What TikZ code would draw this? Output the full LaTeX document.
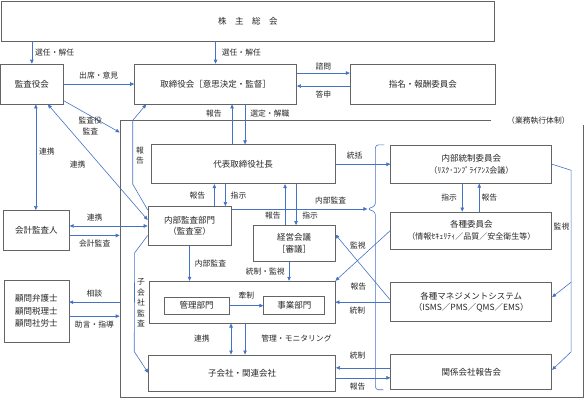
\documentclass[tikz,border=0pt]{standalone}
\usepackage{fontspec}
\newfontfamily\jpfont{Noto Sans CJK JP}
\usepackage{tikz}
\usetikzlibrary{positioning, arrows.meta}
\definecolor{flow}{RGB}{68,114,196}
\definecolor{edge}{RGB}{100,100,100}
\definecolor{ink}{RGB}{38,38,38}

\begin{document}
\begin{tikzpicture}[
  box/.style={draw=edge, fill=white, line width=0.7pt, inner sep=1pt,
              font=\jpfont\fontsize{8.5}{11.5}\selectfont, text=ink, align=center},
  frame/.style={draw=edge, line width=0.7pt, inner sep=0pt},
  lbl/.style={font=\jpfont\fontsize{7.8}{10}\selectfont, text=ink,
              inner xsep=1pt, inner ysep=4.5pt, align=center},
  arr/.style={-{Triangle[length=4pt, width=3.5pt]}, line width=0.6pt, color=flow},
  biarr/.style={{Triangle[length=4pt, width=3.5pt]}-{Triangle[length=4pt, width=3.5pt]},
                line width=0.6pt, color=flow},
  link/.style={line width=0.6pt, color=flow},
]
  \useasboundingbox (0,0) rectangle (584pt,-397pt);

  % Governance row
  \node[box, minimum width=493pt, minimum height=40pt, anchor=north west] (soukai) at (1pt,-0.5pt)
    {株\hspace{1em}主\hspace{1em}総\hspace{1em}会};
  \node[box, minimum width=62pt, minimum height=40pt, below right=22.5pt and -0.5pt of soukai.south west] (kansayaku) {監査役会};
  \node[box, minimum width=162pt, minimum height=40pt, right=71pt of kansayaku] (torishimari) {取締役会［意思決定・監督］};
  \node[box, minimum width=145pt, minimum height=40pt, right=53pt of torishimari] (shimei) {指名・報酬委員会};

  % Execution frame
  \node[frame, minimum width=463pt, minimum height=277pt, below right=16pt and -14.5pt of torishimari.south west] (exec) {};
  \node[lbl, fill=white, inner xsep=16pt, inner ysep=1pt] (exectitle) at ([xshift=-45pt]exec.north east) {（業務執行体制）};

  \node[box, minimum width=184pt, minimum height=39pt, below right=40pt and 16.5pt of torishimari.south west] (shacho) {代表取締役社長};
  \node[box, minimum width=83pt, minimum height=39pt, below right=22pt and -3pt of shacho.south west] (naibu) {内部監査部門\\（監査室）};
  \node[box, minimum width=82pt, minimum height=36pt, below left=41pt and 0pt of shacho.south east] (keiei) {経営会議\\［審議］};
  \node[box, minimum width=186pt, minimum height=42pt, below right=35pt and 1pt of naibu.south west] (jigyo) {};
  \node[box, minimum width=65pt, minimum height=17pt, below right=16pt and 15pt of jigyo.north west] (kanri) {管理部門};
  \node[box, minimum width=61pt, minimum height=18pt, right=34pt of kanri] (jigyobu) {事業部門};
  \node[box, minimum width=187pt, minimum height=36pt, below=31pt of jigyo] (kogaisha) {子会社・関連会社};

  \node[box, minimum width=161pt, minimum height=38pt, right=55pt of shacho] (tousei)
    {内部統制委員会\\{\fontsize{8}{10}\selectfont（ﾘｽｸ･ｺﾝﾌﾟﾗｲｱﾝｽ会議）}};
  \node[box, minimum width=161pt, minimum height=37pt, below=28pt of tousei] (kakushu)
    {各種委員会\\{\fontsize{8}{10}\selectfont（情報ｾｷｭﾘﾃｨ／品質／安全衛生等）}};
  \node[box, minimum width=161pt, minimum height=39pt, below=33pt of kakushu] (mgmt)
    {各種マネジメントシステム\\（ISMS／PMS／QMS／EMS）};
  \node[box, minimum width=161pt, minimum height=35pt, below=32pt of mgmt] (kankei) {関係会社報告会};

  % Outside parties
  \node[box, minimum width=66pt, minimum height=40pt, below left=4pt and 78pt of naibu.north west] (kaikei) {会計監査人};
  \node[box, minimum width=65pt, minimum height=62pt, below=29pt of kaikei, font=\jpfont\fontsize{8.5}{12.5}\selectfont] (komon)
    {顧問弁護士\\顧問税理士\\顧問社労士};

  % Shareholders
  \draw[arr] (kansayaku.north |- soukai.south) -- node[lbl, right=2pt]{選任・解任} (kansayaku);
  \draw[arr] (torishimari.north |- soukai.south) -- node[lbl, right=5pt]{選任・解任} (torishimari);

  % Board and auditors
  \draw[arr] (kansayaku) -- node[lbl, above]{出席・意見} (torishimari);
  \draw[arr] ([yshift=11pt]torishimari.east) -- node[lbl, above=-2pt]{諮問} ([yshift=11pt]torishimari.east -| shimei.west);
  \draw[arr] ([yshift=-2pt]torishimari.east -| shimei.west) -- node[lbl, below]{答申} ([yshift=-2pt]torishimari.east);
  \draw[biarr] ([xshift=4pt]kansayaku.south) -- node[lbl, pos=0.45, right=2pt]{連携} ([xshift=4pt]kansayaku.south |- kaikei.north);
  \draw[biarr] ([xshift=16pt]kansayaku.south) -- node[lbl, pos=0.52, left=13pt]{連携} ([yshift=6pt]naibu.west);
  \draw[arr] ([yshift=4pt]kansayaku.south east) -- node[lbl, pos=0.48, below, inner ysep=1pt, font=\jpfont\fontsize{7.8}{11}\selectfont]{監査役\\監査} ([yshift=-12pt]exec.north west);

  % Accounting auditor and advisers
  \draw[biarr] (kaikei.east |- naibu.west) -- node[lbl, pos=0.32, above]{連携} (naibu.west);
  \draw[arr] ([yshift=-5pt]kaikei.east) -- node[lbl, below]{会計監査} ([yshift=-5pt]kaikei.east -| exec.west);
  \draw[arr] ([yshift=9pt]komon.east -| exec.west) -- node[lbl, above]{相談} ([yshift=9pt]komon.east);
  \draw[arr] ([yshift=-5pt]komon.east) -- node[lbl, below]{助言・指導} ([yshift=-5pt]komon.east -| exec.west);

  % President
  \draw[arr] ([xshift=-11pt]shacho.north) -- node[lbl, pos=0.78, left=9pt]{報告} ([xshift=-11pt]shacho.north |- torishimari.south);
  \draw[arr] ([xshift=2pt]shacho.north |- torishimari.south) -- node[lbl, pos=0.22, right=4pt]{選定・解職} ([xshift=2pt]shacho.north);
  \draw[arr] ([xshift=-17pt]naibu.north east) -- node[lbl, left=8pt]{報告} ([xshift=-17pt]naibu.north east |- shacho.south);
  \draw[arr] ([xshift=-6pt]naibu.north east |- shacho.south) -- node[lbl, right=4pt]{指示} ([xshift=-6pt]naibu.north east);
  \draw[arr] ([xshift=-9pt]keiei.north) -- node[lbl, pos=0.24, left=3pt]{報告} ([xshift=-9pt]keiei.north |- shacho.south);
  \draw[arr] ([xshift=2pt]keiei.north |- shacho.south) -- node[lbl, pos=0.76, right=5pt]{指示} ([xshift=2pt]keiei.north);
  \draw[arr] (shacho.east) -- node[lbl, pos=0.35, above]{統括} (shacho.east -| tousei.west);

  % Internal audit
  \coordinate (leftx) at ([xshift=-15pt]naibu.west);
  \draw[arr] ([yshift=16pt]naibu.west) -- (leftx |- shacho.south)
    -- node[lbl, pos=0.45, right=2pt, font=\jpfont\fontsize{7.8}{10}\selectfont]{報\\告} (leftx |- exec.north)
    -- ([xshift=12pt]torishimari.south west);
  \coordinate (sub1) at ([xshift=-13pt,yshift=-7pt]naibu.south west);
  \coordinate (sub2) at ([xshift=-14pt,yshift=3pt]kogaisha.north west);
  \draw[arr] ([yshift=-9.5pt]naibu.west) -- (sub1)
    -- node[lbl, pos=0.51, right=1.5pt, font=\jpfont\fontsize{7.8}{10.5}\selectfont]{子\\会\\社\\監\\査} (sub2)
    -- (kogaisha.west);

  \coordinate (audity) at ([yshift=17pt]naibu.east);
  \coordinate (bracex) at ([xshift=-15pt]tousei.west);
  \coordinate (bracemid) at (bracex |- audity);
  \coordinate (bracetip) at ([xshift=-8pt]bracemid);
  \draw[link, rounded corners=3pt] ([xshift=-6pt]tousei.north west) -- (bracex |- tousei.north)
    -- ([yshift=3pt]bracemid) -- (bracetip) -- ([yshift=-3pt]bracemid)
    -- (bracex |- kankei.south) -- ([xshift=-7pt]kankei.south west);
  \draw[arr] (audity) -- node[lbl, pos=0.73, above]{内部監査} (bracetip);

  \draw[arr] (naibu.south) -- node[lbl, right=4pt]{内部監査} (naibu.south |- jigyo.north);
  \draw[arr] ([xshift=-5pt]keiei.south) -- node[lbl, left=3pt]{統制・監視} ([xshift=-5pt]keiei.south |- jigyo.north);
  \draw[arr] (kanri) -- node[lbl, above=2pt]{牽制} (jigyobu);
  \draw[biarr] ([xshift=-11pt]jigyo.south) -- node[lbl, left=20pt]{連携} ([xshift=-11pt]jigyo.south |- kogaisha.north);
  \draw[arr] ([xshift=3pt]jigyo.south) -- node[lbl, right=15pt]{管理・モニタリング} ([xshift=3pt]jigyo.south |- kogaisha.north);

  % Committees
  \draw[arr] ([xshift=-9pt]tousei.south) -- node[lbl, left=4pt]{指示} ([xshift=-9pt]tousei.south |- kakushu.north);
  \draw[arr] ([xshift=8pt]kakushu.north) -- node[lbl, right=1pt]{報告} ([xshift=8pt]kakushu.north |- tousei.south);

  \coordinate (mon1) at ([xshift=19pt,yshift=-6pt]tousei.east);
  \coordinate (mon2) at ([xshift=19pt,yshift=20pt]mgmt.east);
  \coordinate (mon3) at ([xshift=19pt,yshift=20pt]kankei.east);
  \draw[arr] (tousei.east) -- (mon1) -- node[lbl, left=0.5pt]{監視} (mon2) -- ([yshift=5pt]mgmt.east);
  \draw[arr] (mon2) -- (mon3) -- ([yshift=2pt]kankei.east);

  \draw[arr] (kakushu.west) -- node[lbl, pos=0.3, left=7pt]{監視} (jigyo.north east);
  \draw[arr] ([yshift=2pt]mgmt.west) -- node[lbl, pos=0.2, left=12pt]{報告} ([yshift=9pt]keiei.east);
  \draw[arr] (mgmt.west) -- node[lbl, pos=0.6, below]{統制} (mgmt.west -| jigyo.east);
  \draw[arr] ([yshift=4pt]kankei.west) -- node[lbl, pos=0.6, above=4pt]{統制} ([yshift=4pt]kankei.west -| kogaisha.east);
  \draw[arr] ([yshift=-6pt]kankei.west -| kogaisha.east) -- node[lbl, pos=0.4, below]{報告} ([yshift=-6pt]kankei.west);
\end{tikzpicture}
\end{document}
